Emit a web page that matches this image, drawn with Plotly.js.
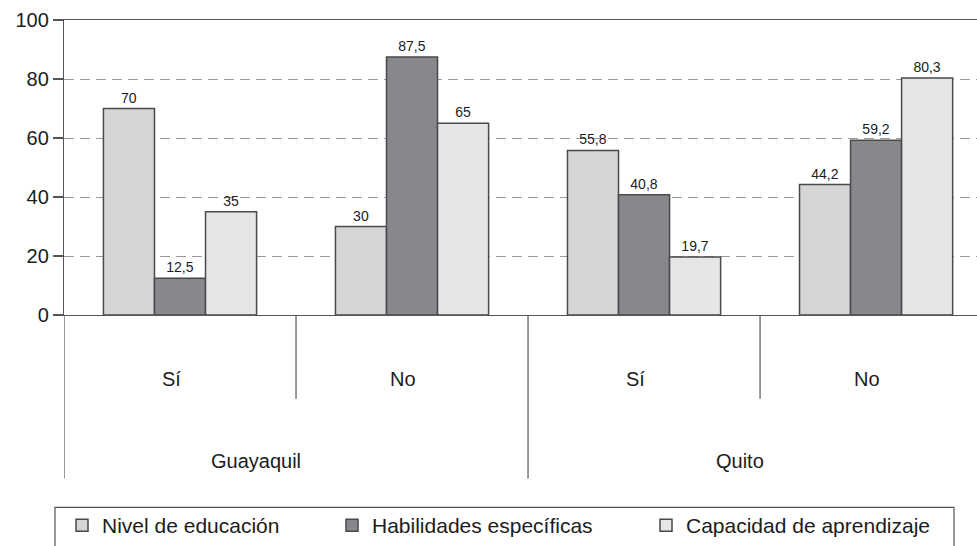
<!DOCTYPE html>
<html>
<head>
<meta charset="utf-8">
<script src="https://cdn.plot.ly/plotly-3.0.1.min.js"></script>
<style>
	html, body { margin: 0; padding: 0; background: #fff; }
	#chart { width: 977px; height: 546px; }
</style>
</head>
<body>
<div id="chart"></div>
<script>
	'use strict';

	// answers (inner level) and cities (outer level)
	const answers = ['Sí', 'No', 'Sí', 'No'];
	const cities = ['Guayaquil', 'Quito'];
	const cityOf = [0, 0, 1, 1];

	// series
	const seriesNames = ['Nivel de educación', 'Habilidades específicas', 'Capacidad de aprendizaje'];
	const nivel = [70, 30, 55.8, 44.2];
	const habilidades = [12.5, 87.5, 40.8, 59.2];
	const capacidad = [35, 65, 19.7, 80.3];

	const yTicks = [0, 20, 40, 60, 80, 100];

	const font = 'Liberation Sans, Arial, Helvetica, sans-serif';
	const ink = '#1c1c1c';
	const lineGrey = '#555555';

	// plot area in px (used for paper conversions only)
	const plotTop = 20, plotBottom = 316;
	const paperY = ( px ) => ( plotBottom - px ) / ( plotBottom - plotTop );
	const paperX = ( px ) => ( px - 64 ) / ( 977 - 64 );

	// x positions = category index
	const xIdx = answers.map(( a, i ) => i );
	const label = ( v ) => String( v ).replace('.', ',');

	/**
	* build a bar trace
	*/
	const barTrace = ( name, values, color, legend ) => ({
		type: 'bar',
		name,
		x: xIdx,
		y: values,
		text: values.map( label ),
		textposition: 'outside',
		cliponaxis: false,
		textfont: { family: font, size: 14, color: ink },
		marker: { color, line: { color: '#4a4a4a', width: 1.5 }},
		legend,
		hoverinfo: 'skip',
	});

	const data = [
		barTrace( seriesNames[0], nivel, '#d4d5d7', 'legend' ),
		barTrace( seriesNames[1], habilidades, '#87888b', 'legend2' ),
		barTrace( seriesNames[2], capacidad, '#e6e6e8', 'legend3' ),
	];

	const legendBase = ( xpx ) => ({
		x: paperX( xpx ),
		y: paperY( 527 ),
		xanchor: 'left',
		yanchor: 'middle',
		orientation: 'h',
		bgcolor: 'rgba(0,0,0,0)',
		borderwidth: 0,
		font: { family: font, size: 21, color: ink },
	});

	// divider lines under the axis
	const divider = ( x, bottomPx ) => ({
		type: 'line',
		xref: 'x', yref: 'paper',
		x0: x, x1: x,
		y0: 0, y1: paperY( bottomPx ),
		line: { color: lineGrey, width: 1.2 },
	});

	const shapes = [
		divider( -0.5, 480 ),
		divider( 0.5, 400 ),
		divider( 1.5, 480 ),
		divider( 2.5, 400 ),
		// legend box (bottom runs off the page)
		{
			type: 'rect',
			xref: 'paper', yref: 'paper',
			x0: paperX( 55 ), x1: paperX( 954 ),
			y0: paperY( 509 ), y1: paperY( 580 ),
			line: { color: lineGrey, width: 1.2 },
			fillcolor: 'rgba(0,0,0,0)',
		},
	];

	const annotations = [];
	answers.forEach(( a, i ) => {
		annotations.push({
			text: a, xref: 'x', yref: 'paper',
			x: i, y: paperY( 380 ), xshift: -9,
			showarrow: false, yanchor: 'middle',
			font: { family: font, size: 20, color: ink },
		});
	});
	const cityShift = [-40, -20];
	cities.forEach(( c, ci ) => {
		const idx = xIdx.filter(( i ) => cityOf[i] === ci );
		const mid = ( idx[0] + idx[idx.length - 1] ) / 2;
		annotations.push({
			text: c, xref: 'x', yref: 'paper',
			x: mid, y: paperY( 462 ), xshift: cityShift[ci],
			showarrow: false, yanchor: 'middle',
			font: { family: font, size: 20, color: ink },
		});
	});

	const layout = {
		width: 977,
		height: 546,
		margin: { l: 64, r: 0, t: plotTop, b: 546 - plotBottom, pad: 0 },
		paper_bgcolor: '#fff',
		plot_bgcolor: '#fff',
		font: { family: font, color: ink },
		barmode: 'group',
		bargap: 0.34,
		bargroupgap: 0,
		showlegend: true,
		legend: legendBase( 62 ),
		legend2: legendBase( 332 ),
		legend3: legendBase( 646 ),
		xaxis: {
			type: 'linear',
			range: [-0.5, 3.435],
			showgrid: false,
			zeroline: false,
			showticklabels: false,
			ticks: '',
			showline: true,
			mirror: true,
			linecolor: lineGrey,
			linewidth: 1.2,
			fixedrange: true,
		},
		yaxis: {
			range: [0, 100],
			tickvals: yTicks,
			ticks: 'outside',
			ticklen: 10,
			tickcolor: lineGrey,
			tickwidth: 1.2,
			showline: true,
			linecolor: lineGrey,
			linewidth: 1.2,
			showgrid: true,
			gridcolor: '#9a9a9a',
			griddash: '10px,6px',
			gridwidth: 1,
			zeroline: false,
			tickfont: { family: font, size: 20, color: ink },
			fixedrange: true,
		},
		shapes,
		annotations,
	};

	Plotly.newPlot('chart', data, layout, { displayModeBar: false, staticPlot: true });
</script>
</body>
</html>
